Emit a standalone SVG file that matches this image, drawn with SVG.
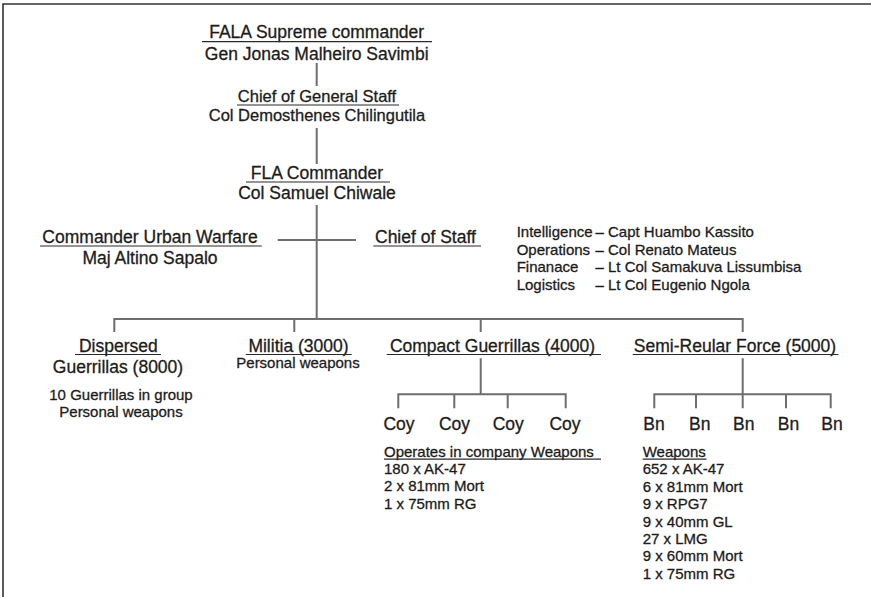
<svg xmlns="http://www.w3.org/2000/svg" width="871" height="597" viewBox="0 0 871 597">
<style>
text{font-family:"Liberation Sans",Arial,Helvetica,sans-serif;fill:#1c1c1c;stroke:#1c1c1c;stroke-width:0.3}
.t{font-size:17.5px}
.m{font-size:16.5px}
.s{font-size:15px}
.c{text-anchor:middle}
.ul{stroke:#2a2a2a;stroke-width:1.2;fill:none}
.cn{stroke:#6e6e6e;stroke-width:2;fill:none}
.fr{stroke:#333;stroke-width:1.6;fill:none}
</style>
<rect width="871" height="597" fill="#fff"/>
<path class="fr" d="M3 597V4H871"/>
<g id="connectors">
<path class="cn" d="M316.7 63V86M316.7 128V164M316.7 205V319M277.7 240H356"/>
<path class="cn" d="M114.3 332V319H742.7V332M294.3 319V332M480.7 319V332"/>
<path class="cn" d="M480.7 358.3V394.3M398.3 408.3V394.3H565.7V408.3M454.3 394.3V408.3M507.7 394.3V408.3"/>
<path class="cn" d="M742.7 358.3V408.3M654.3 408.3V394.3H830.7V408.3M696 394.3V408.3M786 394.3V408.3"/>
</g>
<g id="supreme">
<text class="t c" x="316.7" y="38">FALA Supreme commander</text>
<line class="ul" x1="202" y1="41.7" x2="432" y2="41.7"/>
<text class="t c" x="316.7" y="59.5">Gen Jonas Malheiro Savimbi</text>
</g>
<g id="chief-general-staff">
<text class="m c" x="317" y="101.7">Chief of General Staff</text>
<line class="ul" x1="237" y1="105" x2="399" y2="105"/>
<text class="m c" x="317" y="120.7">Col Demosthenes Chilingutila</text>
</g>
<g id="fla-commander">
<text class="t c" x="317" y="179.3">FLA Commander</text>
<line class="ul" x1="246" y1="182" x2="390" y2="182"/>
<text class="t c" x="317" y="199.3">Col Samuel Chiwale</text>
</g>
<g id="urban-warfare">
<text class="t c" x="150" y="242.7">Commander Urban Warfare</text>
<line class="ul" x1="40" y1="246" x2="261.7" y2="246"/>
<text class="t c" x="150" y="264">Maj Altino Sapalo</text>
</g>
<g id="chief-of-staff">
<text class="t" x="375" y="242.7">Chief of Staff</text>
<line class="ul" x1="373.3" y1="246" x2="481" y2="246"/>
</g>
<g id="staff-list">
<text class="s" x="516.7" y="237.3">Intelligence</text><text class="s" x="595.5" y="237.3">– Capt Huambo Kassito</text>
<text class="s" x="516.7" y="255">Operations</text><text class="s" x="595.5" y="255">– Col Renato Mateus</text>
<text class="s" x="516.7" y="272.3">Finanace</text><text class="s" x="595.5" y="272.3">– Lt Col Samakuva Lissumbisa</text>
<text class="s" x="516.7" y="290">Logistics</text><text class="s" x="595.5" y="290">– Lt Col Eugenio Ngola</text>
</g>
<g id="dispersed">
<text class="t c" x="118.3" y="352.3">Dispersed</text>
<line class="ul" x1="75" y1="354.5" x2="161" y2="354.5"/>
<text class="t c" x="118" y="373.3">Guerrillas (8000)</text>
<text class="s c" x="121" y="400">10 Guerrillas in group</text>
<text class="s c" x="121" y="417.3">Personal weapons</text>
</g>
<g id="militia">
<text class="t c" x="298.5" y="352.3">Militia (3000)</text>
<line class="ul" x1="245.7" y1="354.5" x2="351.7" y2="354.5"/>
<text class="s c" x="298" y="368.3">Personal weapons</text>
</g>
<g id="compact">
<text class="t c" x="492.5" y="352.3">Compact Guerrillas (4000)</text>
<line class="ul" x1="386.7" y1="354.5" x2="601" y2="354.5"/>
<text class="t c" x="399" y="430">Coy</text>
<text class="t c" x="454.5" y="430">Coy</text>
<text class="t c" x="508.3" y="430">Coy</text>
<text class="t c" x="565" y="430">Coy</text>
<text class="s" x="384" y="456.7">Operates in company Weapons</text>
<line class="ul" x1="384" y1="459.2" x2="601" y2="459.2"/>
<text class="s" x="384" y="474">180 x AK-47</text>
<text class="s" x="384" y="491.3">2 x 81mm Mort</text>
<text class="s" x="384" y="509">1 x 75mm RG</text>
</g>
<g id="semi-regular">
<text class="t c" x="735" y="352.3">Semi-Reular Force (5000)</text>
<line class="ul" x1="632.7" y1="354.5" x2="838.3" y2="354.5"/>
<text class="t c" x="654" y="430">Bn</text>
<text class="t c" x="699.7" y="430">Bn</text>
<text class="t c" x="743.7" y="430">Bn</text>
<text class="t c" x="788.5" y="430">Bn</text>
<text class="t c" x="832" y="430">Bn</text>
<text class="s" x="642.7" y="456.7">Weapons</text>
<line class="ul" x1="642.7" y1="459.2" x2="706.5" y2="459.2"/>
<text class="s" x="642.7" y="474">652 x AK-47</text>
<text class="s" x="642.7" y="491.7">6 x 81mm Mort</text>
<text class="s" x="642.7" y="509">9 x RPG7</text>
<text class="s" x="642.7" y="526.7">9 x 40mm GL</text>
<text class="s" x="642.7" y="544">27 x LMG</text>
<text class="s" x="642.7" y="561.3">9 x 60mm Mort</text>
<text class="s" x="642.7" y="578.7">1 x 75mm RG</text>
</g>
</svg>
